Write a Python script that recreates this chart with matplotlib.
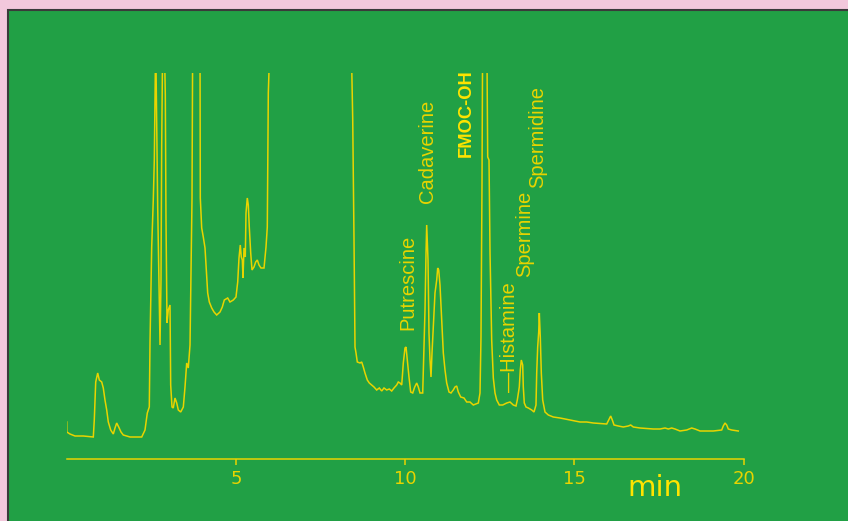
"""Chromatogram of biogenic amines (FMOC derivatives), yellow trace on green."""

import matplotlib

matplotlib.use("Agg")
import matplotlib.pyplot as plt
from matplotlib.patches import Rectangle

OUT_PNG = "out.png"

# retention time (min) and detector signal (arbitrary units);
# values above the plot top are clipped off-scale peaks
time_min = [
    0.000, 0.003, 0.097, 0.245, 0.490, 0.786, 0.815, 0.857, 0.916, 0.963,
    1.034, 1.081, 1.131, 1.182, 1.229, 1.300, 1.377, 1.427, 1.477, 1.536,
    1.604, 1.672, 1.870, 2.216, 2.313, 2.381, 2.440, 2.461, 2.511, 2.558,
    2.588, 2.629, 2.688, 2.727, 2.757, 2.786, 2.806, 2.836, 2.883, 2.913,
    2.933, 2.963, 3.001, 3.052, 3.072, 3.111, 3.149, 3.199, 3.250, 3.297,
    3.368, 3.445, 3.495, 3.545, 3.592, 3.643, 3.702, 3.722, 3.938, 3.947,
    3.988, 4.035, 4.086, 4.136, 4.165, 4.213, 4.284, 4.352, 4.431, 4.529,
    4.597, 4.656, 4.756, 4.824, 4.922, 5.001, 5.052, 5.090, 5.128, 5.158,
    5.188, 5.208, 5.238, 5.276, 5.297, 5.335, 5.365, 5.394, 5.436, 5.474,
    5.533, 5.583, 5.631, 5.681, 5.740, 5.829, 5.888, 5.926, 5.956, 6.006,
    6.892, 8.074, 8.399, 8.449, 8.487, 8.517, 8.547, 8.585, 8.665, 8.715,
    8.762, 8.812, 8.880, 8.940, 9.010, 9.078, 9.158, 9.235, 9.306, 9.374,
    9.453, 9.530, 9.601, 9.669, 9.749, 9.796, 9.846, 9.897, 9.944, 9.994,
    10.024, 10.062, 10.112, 10.162, 10.222, 10.281, 10.340, 10.387, 10.437, 10.517,
    10.556, 10.585, 10.615, 10.635, 10.674, 10.703, 10.733, 10.762, 10.792, 10.830,
    10.880, 10.931, 10.960, 10.990, 11.028, 11.078, 11.126, 11.176, 11.226, 11.294,
    11.353, 11.421, 11.471, 11.521, 11.569, 11.640, 11.737, 11.817, 11.914, 12.012,
    12.160, 12.210, 12.239, 12.269, 12.290, 12.408, 12.437, 12.476, 12.506, 12.555,
    12.603, 12.653, 12.703, 12.780, 12.880, 12.999, 13.096, 13.193, 13.273, 13.312,
    13.371, 13.400, 13.430, 13.471, 13.489, 13.518, 13.569, 13.637, 13.737, 13.805,
    13.864, 13.885, 13.914, 13.944, 13.962, 13.991, 14.021, 14.062, 14.130, 14.228,
    14.375, 14.574, 14.869, 15.165, 15.362, 15.557, 15.953, 16.012, 16.071, 16.118,
    16.169, 16.296, 16.443, 16.591, 16.662, 16.739, 16.937, 17.330, 17.528, 17.676,
    17.773, 17.873, 17.971, 18.118, 18.316, 18.464, 18.562, 18.710, 19.102, 19.350,
    19.397, 19.447, 19.498, 19.545, 19.645, 19.840,
]
signal = [
    37, 27, 25, 23, 23, 22, 39, 77, 86, 79,
    77, 71, 59, 49, 37, 29, 25, 31, 36, 32,
    27, 24, 22, 22, 29, 46, 52, 116, 212, 259,
    299, 420, 252, 176, 114, 179, 312, 420, 420, 364,
    242, 136, 149, 154, 74, 52, 51, 61, 56, 49,
    47, 52, 72, 96, 91, 114, 261, 420, 420, 261,
    231, 222, 211, 182, 166, 157, 151, 147, 144, 147,
    152, 159, 161, 157, 159, 162, 177, 201, 214, 202,
    199, 181, 211, 202, 246, 261, 254, 232, 206, 189,
    192, 197, 199, 194, 191, 191, 212, 232, 366, 420,
    600, 600, 430, 341, 221, 112, 106, 97, 96, 97,
    92, 86, 79, 76, 74, 72, 69, 71, 68, 71,
    69, 70, 68, 71, 74, 77, 76, 74, 96, 111,
    112, 99, 82, 67, 66, 72, 76, 72, 66, 66,
    112, 149, 206, 234, 199, 126, 99, 82, 106, 132,
    166, 179, 191, 189, 174, 139, 106, 89, 76, 67,
    66, 69, 72, 73, 67, 62, 61, 57, 57, 54,
    56, 66, 122, 276, 440, 440, 302, 299, 206, 119,
    81, 66, 59, 54, 54, 56, 57, 54, 53, 59,
    72, 89, 99, 94, 72, 56, 52, 51, 49, 47,
    54, 86, 112, 127, 146, 122, 86, 59, 47, 44,
    42, 41, 39, 37, 37, 36, 35, 39, 43, 39,
    34, 33, 32, 33, 34, 32, 31, 30, 30, 31,
    30, 31, 30, 28, 29, 31, 30, 28, 28, 29,
    33, 36, 34, 30, 29, 28,
]

# peak annotations: label, retention time of label centre, signal at label foot
peak_names = ["Putrescine", "Cadaverine", "FMOC-OH", "\u2014Histamine", "Spermine", "Spermidine"]
peak_times = [10.07, 10.67, 11.80, 13.07, 13.54, 13.91]
peak_label_base = [129, 256, 302, 67, 182, 271]

x_ticks = [5, 10, 15, 20]
x_tick_labels = ["5", "10", "15", "20"]

PINK = "#F2C8DC"
GREEN = "#21A045"
TRACE = "#E8D400"
BRIGHT = "#FFE400"

W, H = 848, 521

fig = plt.figure(figsize=(W / 100, H / 100), dpi=100)
fig.patch.set_facecolor(PINK)
fig.patches.append(
    Rectangle((7.5 / W, -0.05), 1.1, 1 - 10.5 / H + 0.05, transform=fig.transFigure,
              facecolor=GREEN, edgecolor="#3A3A3A", linewidth=1.5, zorder=-10)
)

ax = fig.add_axes([66.7 / W, 62 / H, 677 / W, 386 / H])
ax.set_facecolor("none")
ax.plot(time_min, signal, color=TRACE, lw=1.1, solid_joinstyle="miter")
ax.set_xlim(0, 20)
ax.set_ylim(0, 386)

for side in ("left", "top", "right"):
    ax.spines[side].set_visible(False)
ax.spines["bottom"].set_color(TRACE)
ax.spines["bottom"].set_linewidth(1.1)
ax.set_yticks([])
ax.set_xticks(x_ticks)
ax.set_xticklabels(x_tick_labels)
ax.tick_params(axis="x", colors=TRACE, length=4, width=1.1, pad=4,
               labelsize=13, labelcolor=TRACE)

for name, t, base in zip(peak_names, peak_times, peak_label_base):
    bright = name == "FMOC-OH"
    ax.text(t, base, name, rotation=90, ha="center", va="bottom",
            fontsize=13.2 if bright else 14.5,
            fontweight="bold" if bright else "normal",
            family=["Liberation Sans", "DejaVu Sans"],
            color=BRIGHT if bright else TRACE)

fig.text(655 / W, 1 - 496 / H, "min", ha="center", va="baseline",
         fontsize=21, color=BRIGHT)

fig.savefig(OUT_PNG, dpi=100, facecolor=fig.get_facecolor())
plt.close(fig)
